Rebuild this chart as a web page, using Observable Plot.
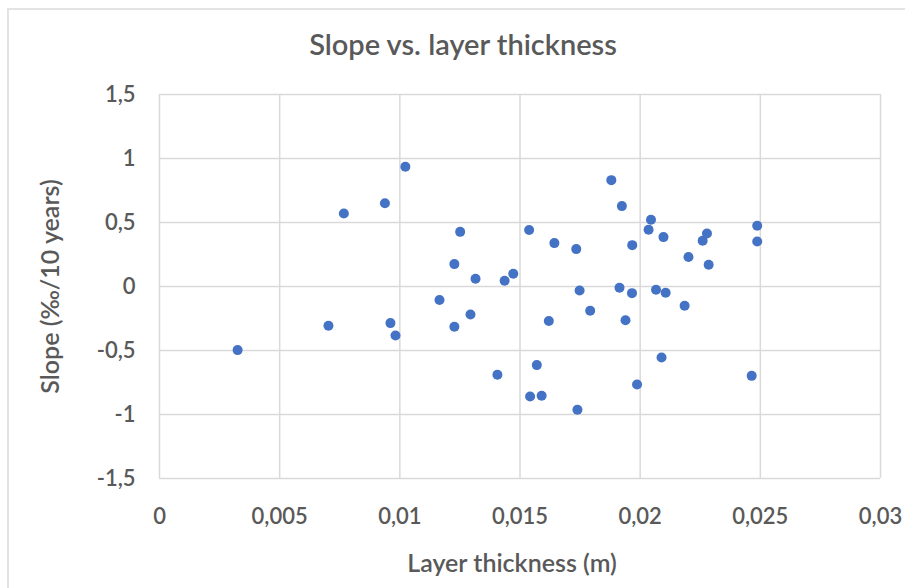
<!DOCTYPE html>
<html>
<head>
<meta charset="utf-8">
<script src="https://cdn.jsdelivr.net/npm/d3@7"></script>
<script src="https://cdn.jsdelivr.net/npm/@observablehq/plot@0.6"></script>
<style>
  html, body { margin: 0; padding: 0; background: #fff; }
  #wrap { position: relative; width: 905px; height: 588px; overflow: hidden; }
  #border { position: absolute; left: 7px; top: 8px; width: 1000px; height: 1000px;
            border-top: 2px solid #e3e3e3; border-left: 2px solid #e3e3e3; box-sizing: border-box; }
  #chart { position: absolute; left: 0; top: 0; }
</style>
</head>
<body>
<div id="wrap"><div id="border"></div><div id="chart"></div></div>
<script>
const title = "Slope vs. layer thickness";
const xLabel = "Layer thickness (m)";
const yLabel = "Slope (‰/10 years)";
const xTicks = [0, 0.005, 0.01, 0.015, 0.02, 0.025, 0.03];
const yTicks = [-1.5, -1, -0.5, 0, 0.5, 1, 1.5];

const thickness = [
  0.00325, 0.00703, 0.00767, 0.00938, 0.00961, 0.00982, 0.01023, 0.01165,
  0.01227, 0.01227, 0.01251, 0.01294, 0.01315, 0.01406, 0.01436, 0.01472,
  0.01538, 0.01542, 0.01570, 0.01590, 0.01620, 0.01643, 0.01734, 0.01739,
  0.01748, 0.01792, 0.01880, 0.01914, 0.01924, 0.01939, 0.01966, 0.01967,
  0.01987, 0.02035, 0.02045, 0.02066, 0.02089, 0.02097, 0.02106, 0.02185,
  0.02201, 0.02260, 0.02278, 0.02285, 0.02464, 0.02487, 0.02487
];
const slope = [
  -0.497, -0.307, 0.570, 0.651, -0.286, -0.383, 0.935, -0.106,
  -0.315, 0.175, 0.427, -0.219, 0.060, -0.690, 0.045, 0.100,
  0.442, -0.859, -0.614, -0.854, -0.270, 0.339, 0.292, -0.963,
  -0.031, -0.190, 0.831, -0.010, 0.628, -0.263, -0.052, 0.323,
  -0.766, 0.443, 0.521, -0.026, -0.555, 0.386, -0.049, -0.151,
  0.230, 0.357, 0.414, 0.170, -0.698, 0.474, 0.352
];

const data = thickness.map((x, i) => ({x, y: slope[i]}));
const fmt = v => String(v).replace(".", ",");
const textColor = "#595959";
const font = "Lato, 'Open Sans', sans-serif";

const chart = Plot.plot({
  width: 905,
  height: 588,
  marginTop: 94,
  marginBottom: 110,
  marginLeft: 159,
  marginRight: 25,
  style: { fontFamily: font, color: textColor, background: "transparent", overflow: "visible" },
  x: { domain: [0, 0.03] },
  y: { domain: [-1.5, 1.5] },
  marks: [
    Plot.gridX(xTicks, { stroke: "#d9d9d9", strokeOpacity: 1, strokeWidth: 1.5 }),
    Plot.gridY(yTicks, { stroke: "#d9d9d9", strokeOpacity: 1, strokeWidth: 1.5 }),
    Plot.axisX({ ticks: xTicks, tickFormat: fmt, tickSize: 0, tickPadding: 30, label: null, fontSize: 22, fontWeight: 600, fill: textColor }),
    Plot.axisY({ ticks: yTicks, tickFormat: fmt, tickSize: 0, tickPadding: 24, label: null, fontSize: 22, fontWeight: 600, fill: textColor }),
    Plot.dot(data, { x: "x", y: "y", r: 5, fill: "#4472C4", stroke: "none" }),
    Plot.text([title], { frameAnchor: "top", dx: -57, dy: -49, lineAnchor: "middle", fontSize: 29, fontWeight: 600, fill: textColor }),
    Plot.text([xLabel], { frameAnchor: "bottom", dx: -8, dy: 85, lineAnchor: "middle", fontSize: 25, fontWeight: 600, fill: textColor }),
    Plot.text([yLabel], { frameAnchor: "left", dx: -109, rotate: -90, textAnchor: "middle", lineAnchor: "middle", fontSize: 25, fontWeight: 600, fill: textColor })
  ]
});
document.getElementById("chart").appendChild(chart);
</script>
</body>
</html>
